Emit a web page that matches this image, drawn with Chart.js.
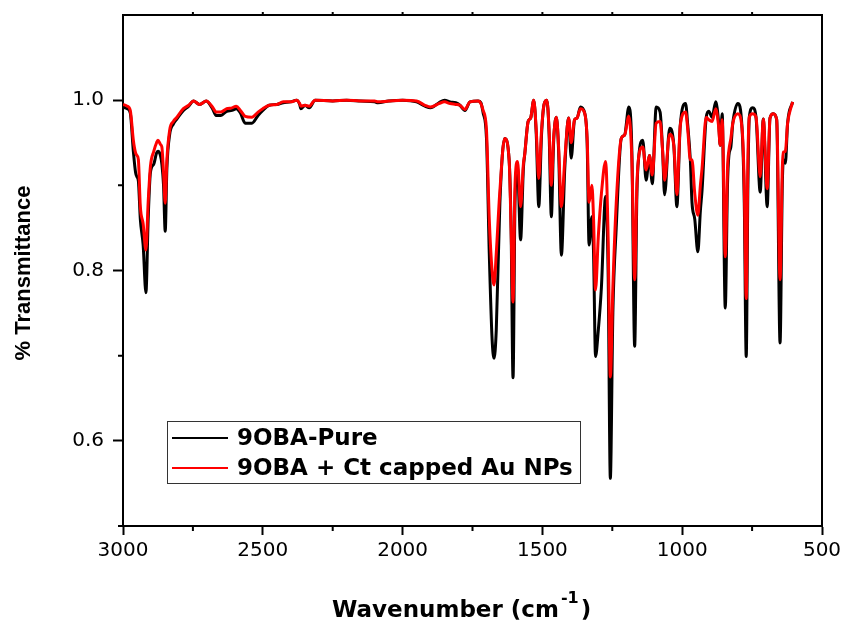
<!DOCTYPE html>
<html>
<head>
<meta charset="utf-8">
<script src="https://cdn.jsdelivr.net/npm/chart.js@4.4.1/dist/chart.umd.min.js"></script>
<style>
  body { margin: 0; background: #fff; }
  #wrap { width: 843px; height: 621px; }
</style>
</head>
<body>
<div id="wrap"><canvas id="irChart" width="843" height="621"></canvas></div>
<script>
// wavenumbers (cm-1) shared by both spectra
const waveNumbers = [
  3000, 2985, 2974, 2963, 2955, 2950, 2945, 2938, 2928, 2918, 2910, 2902, 2890, 2880, 2875, 2866, 2861, 2855, 2849, 2843,
  2833, 2820, 2807, 2784, 2765, 2748, 2726, 2702, 2680, 2667, 2650, 2629, 2610, 2595, 2580, 2563, 2539, 2517, 2500, 2477,
  2450, 2427, 2400, 2379, 2368, 2364, 2349, 2334, 2313, 2250, 2200, 2150, 2100, 2088, 2050, 2000, 1950, 1920, 1900, 1870,
  1850, 1830, 1810, 1795, 1777, 1759, 1730, 1720, 1712, 1700, 1690, 1680, 1673, 1665, 1652, 1635, 1619, 1612, 1605, 1598,
  1589, 1578, 1568, 1563, 1551, 1542, 1531, 1522, 1513, 1503, 1494, 1484, 1476, 1468, 1460, 1450, 1442, 1432, 1420, 1406,
  1397, 1385, 1376, 1364, 1349, 1340, 1333, 1323, 1317, 1310, 1300, 1289, 1274, 1265, 1257, 1248, 1236, 1218, 1206, 1191,
  1180, 1170, 1162, 1155, 1141, 1129, 1117, 1107, 1093, 1079, 1070, 1063, 1045, 1030, 1019, 1007, 988, 980, 971, 965,
  955, 944, 935, 929, 914, 905, 893, 880, 870, 864, 857, 846, 838, 833, 826, 819, 801, 786, 778, 771,
  765, 760, 748, 736, 721, 710, 696, 686, 674, 662, 650, 642, 638, 631, 623, 605
];

// 9OBA-Pure
const pureT = [
  0.992, 0.990, 0.985, 0.940, 0.915, 0.910, 0.905, 0.860, 0.830, 0.774, 0.860, 0.915, 0.925, 0.938, 0.940, 0.935, 0.925, 0.900, 0.846, 0.920,
  0.960, 0.972, 0.978, 0.988, 0.993, 0.999, 0.995, 0.999, 0.990, 0.982, 0.982, 0.987, 0.988, 0.990, 0.985, 0.973, 0.973, 0.982, 0.988, 0.994,
  0.995, 0.997, 0.998, 1.000, 0.995, 0.990, 0.994, 0.991, 1.000, 0.999, 1.000, 0.999, 0.998, 0.997, 0.999, 1.000, 0.998, 0.993, 0.991, 0.997,
  1.000, 0.998, 0.997, 0.994, 0.988, 0.998, 0.999, 0.997, 0.985, 0.955, 0.820, 0.720, 0.697, 0.730, 0.880, 0.955, 0.930, 0.850, 0.674, 0.880,
  0.920, 0.836, 0.920, 0.937, 0.975, 0.979, 1.000, 0.960, 0.875, 0.960, 0.995, 1.000, 0.960, 0.863, 0.950, 0.980, 0.940, 0.818, 0.920, 0.979,
  0.932, 0.977, 0.979, 0.992, 0.985, 0.950, 0.830, 0.863, 0.820, 0.699, 0.730, 0.780, 0.887, 0.800, 0.556, 0.750, 0.850, 0.955, 0.959, 0.992,
  0.940, 0.711, 0.890, 0.935, 0.953, 0.906, 0.935, 0.902, 0.992, 0.986, 0.940, 0.889, 0.967, 0.947, 0.875, 0.970, 0.996, 0.970, 0.930, 0.880,
  0.860, 0.822, 0.870, 0.894, 0.980, 0.987, 0.980, 0.998, 0.975, 0.947, 0.984, 0.756, 0.900, 0.935, 0.945, 0.973, 0.996, 0.967, 0.880, 0.699,
  0.900, 0.980, 0.991, 0.980, 0.892, 0.978, 0.875, 0.979, 0.984, 0.977, 0.715, 0.900, 0.930, 0.926, 0.973, 0.998
];

// 9OBA + Ct capped Au NPs
const cappedT = [
  0.995, 0.993, 0.988, 0.953, 0.938, 0.935, 0.930, 0.875, 0.855, 0.824, 0.880, 0.922, 0.940, 0.950, 0.953, 0.948, 0.945, 0.915, 0.879, 0.930,
  0.965, 0.975, 0.980, 0.990, 0.994, 0.999, 0.995, 0.999, 0.992, 0.986, 0.986, 0.990, 0.991, 0.993, 0.988, 0.981, 0.980, 0.986, 0.990, 0.994,
  0.995, 0.998, 0.998, 1.000, 0.996, 0.993, 0.994, 0.993, 1.000, 0.999, 1.000, 0.999, 0.999, 0.998, 0.999, 1.000, 0.999, 0.994, 0.992, 0.996,
  0.998, 0.996, 0.995, 0.994, 0.989, 0.998, 0.999, 0.996, 0.988, 0.965, 0.860, 0.800, 0.783, 0.820, 0.894, 0.955, 0.930, 0.850, 0.763, 0.900,
  0.928, 0.875, 0.925, 0.937, 0.975, 0.979, 1.000, 0.965, 0.908, 0.965, 0.995, 1.000, 0.965, 0.900, 0.955, 0.980, 0.945, 0.875, 0.930, 0.979,
  0.950, 0.977, 0.979, 0.990, 0.985, 0.955, 0.880, 0.900, 0.860, 0.777, 0.840, 0.890, 0.928, 0.840, 0.675, 0.780, 0.879, 0.955, 0.959, 0.981,
  0.930, 0.789, 0.900, 0.935, 0.945, 0.918, 0.935, 0.912, 0.973, 0.975, 0.940, 0.906, 0.960, 0.947, 0.889, 0.970, 0.986, 0.965, 0.930, 0.930,
  0.890, 0.865, 0.900, 0.920, 0.980, 0.977, 0.975, 0.990, 0.970, 0.947, 0.977, 0.816, 0.920, 0.941, 0.955, 0.973, 0.984, 0.967, 0.900, 0.767,
  0.930, 0.980, 0.984, 0.980, 0.910, 0.978, 0.896, 0.979, 0.984, 0.977, 0.789, 0.920, 0.939, 0.940, 0.973, 0.998
];

const seriesNames = ['9OBA-Pure', '9OBA + Ct capped Au NPs'];
const xTickValues = [3000, 2500, 2000, 1500, 1000, 500];
const xMinorValues = [2750, 2250, 1750, 1250, 750];
const yTickValues = [0.6, 0.8, 1.0];
const yMinorValues = [0.5, 0.7, 0.9];

function toPoints(vals) {
  return waveNumbers.map(function (w, i) { return { x: w, y: vals[i] }; });
}

// frame, minor ticks, legend box and axis titles
const extras = {
  id: 'extras',
  afterDraw: function (chart) {
    const ctx = chart.ctx;
    const a = chart.chartArea;
    const xs = chart.scales.x;
    const ys = chart.scales.y;
    ctx.save();
    ctx.strokeStyle = '#000';
    ctx.lineWidth = 2;
    ctx.beginPath();
    ctx.moveTo(a.left, a.top);
    ctx.lineTo(a.right, a.top);
    ctx.lineTo(a.right, a.bottom);
    ctx.stroke();

    ctx.beginPath();
    xMinorValues.forEach(function (v) {
      const px = xs.getPixelForValue(v);
      ctx.moveTo(px, a.bottom);
      ctx.lineTo(px, a.bottom + 5);
    });
    xMinorValues.concat(xTickValues.slice(1, -1)).forEach(function (v) {
      const px = xs.getPixelForValue(v);
      ctx.moveTo(px, a.top);
      ctx.lineTo(px, a.top - 3);
    });
    yMinorValues.forEach(function (v) {
      const py = ys.getPixelForValue(v);
      ctx.moveTo(a.left, py);
      ctx.lineTo(a.left - 5, py);
    });
    ctx.stroke();

    // legend
    ctx.lineWidth = 1;
    ctx.strokeStyle = '#333';
    ctx.strokeRect(167.5, 421.5, 413, 62);
    const colors = ['#000000', '#ff0000'];
    const rowsY = [438, 468];
    ctx.font = 'bold 23px "DejaVu Sans"';
    ctx.textBaseline = 'middle';
    ctx.textAlign = 'left';
    ctx.fillStyle = '#000';
    for (let i = 0; i < 2; i++) {
      ctx.strokeStyle = colors[i];
      ctx.lineWidth = 2;
      ctx.beginPath();
      ctx.moveTo(172, rowsY[i]);
      ctx.lineTo(228, rowsY[i]);
      ctx.stroke();
      ctx.fillText(seriesNames[i], 237, rowsY[i] + 1);
    }

    // x title with superscript
    ctx.textBaseline = 'alphabetic';
    const main = 'Wavenumber (cm';
    ctx.font = 'bold 23px "DejaVu Sans"';
    const w1 = ctx.measureText(main).width;
    ctx.fillText(main, 332, 617);
    ctx.font = 'bold 16px "DejaVu Sans"';
    const w2 = ctx.measureText('-1').width;
    ctx.fillText('-1', 332 + w1 + 2, 603);
    ctx.font = 'bold 23px "DejaVu Sans"';
    ctx.fillText(')', 332 + w1 + w2 + 4, 617);

    // y title
    ctx.translate(24, 273);
    ctx.rotate(-Math.PI / 2);
    ctx.textAlign = 'center';
    ctx.textBaseline = 'middle';
    ctx.font = 'bold 22px "Liberation Sans"';
    ctx.fillText('% Transmittance', 0, 0);
    ctx.restore();
  }
};

const ctx = document.getElementById('irChart').getContext('2d');
const irChart = new Chart(ctx, {
  type: 'line',
  data: {
    datasets: [
      {
        label: seriesNames[0],
        data: toPoints(pureT),
        borderColor: '#000000',
        backgroundColor: '#000000',
        borderWidth: 3,
        pointRadius: 0,
        fill: false,
        cubicInterpolationMode: 'monotone',
        order: 1
      },
      {
        label: seriesNames[1],
        data: toPoints(cappedT),
        borderColor: '#ff0000',
        backgroundColor: '#ff0000',
        borderWidth: 3,
        pointRadius: 0,
        fill: false,
        cubicInterpolationMode: 'monotone',
        order: 0
      }
    ]
  },
  options: {
    responsive: false,
    animation: false,
    devicePixelRatio: 1,
    layout: { padding: { top: 15, right: 21, left: 0, bottom: 0 } },
    plugins: {
      legend: { display: false },
      tooltip: { enabled: false }
    },
    scales: {
      x: {
        type: 'linear',
        reverse: true,
        min: 500,
        max: 3000,
        afterFit: function (s) { s.height = 95; s.paddingLeft = 0; s.paddingRight = 0; },
        afterBuildTicks: function (s) { s.ticks = xTickValues.map(function (v) { return { value: v }; }); },
        grid: { drawOnChartArea: false, drawTicks: true, tickLength: 9, tickColor: '#000', tickWidth: 2 },
        border: { display: true, color: '#000', width: 2 },
        ticks: {
          color: '#000',
          padding: 4,
          maxRotation: 0,
          font: { family: 'DejaVu Sans', size: 20 },
          callback: function (v) { return String(v); }
        }
      },
      y: {
        min: 0.5,
        max: 1.1,
        afterFit: function (s) { s.width = 123; s.paddingTop = 0; s.paddingBottom = 0; },
        afterBuildTicks: function (s) { s.ticks = yTickValues.map(function (v) { return { value: v }; }); },
        grid: { drawOnChartArea: false, drawTicks: true, tickLength: 10, tickColor: '#000', tickWidth: 2 },
        border: { display: true, color: '#000', width: 2 },
        ticks: {
          color: '#000',
          padding: 9,
          font: { family: 'DejaVu Sans', size: 20 },
          callback: function (v) { return Number(v).toFixed(1); }
        }
      }
    }
  },
  plugins: [extras]
});
</script>
</body>
</html>
